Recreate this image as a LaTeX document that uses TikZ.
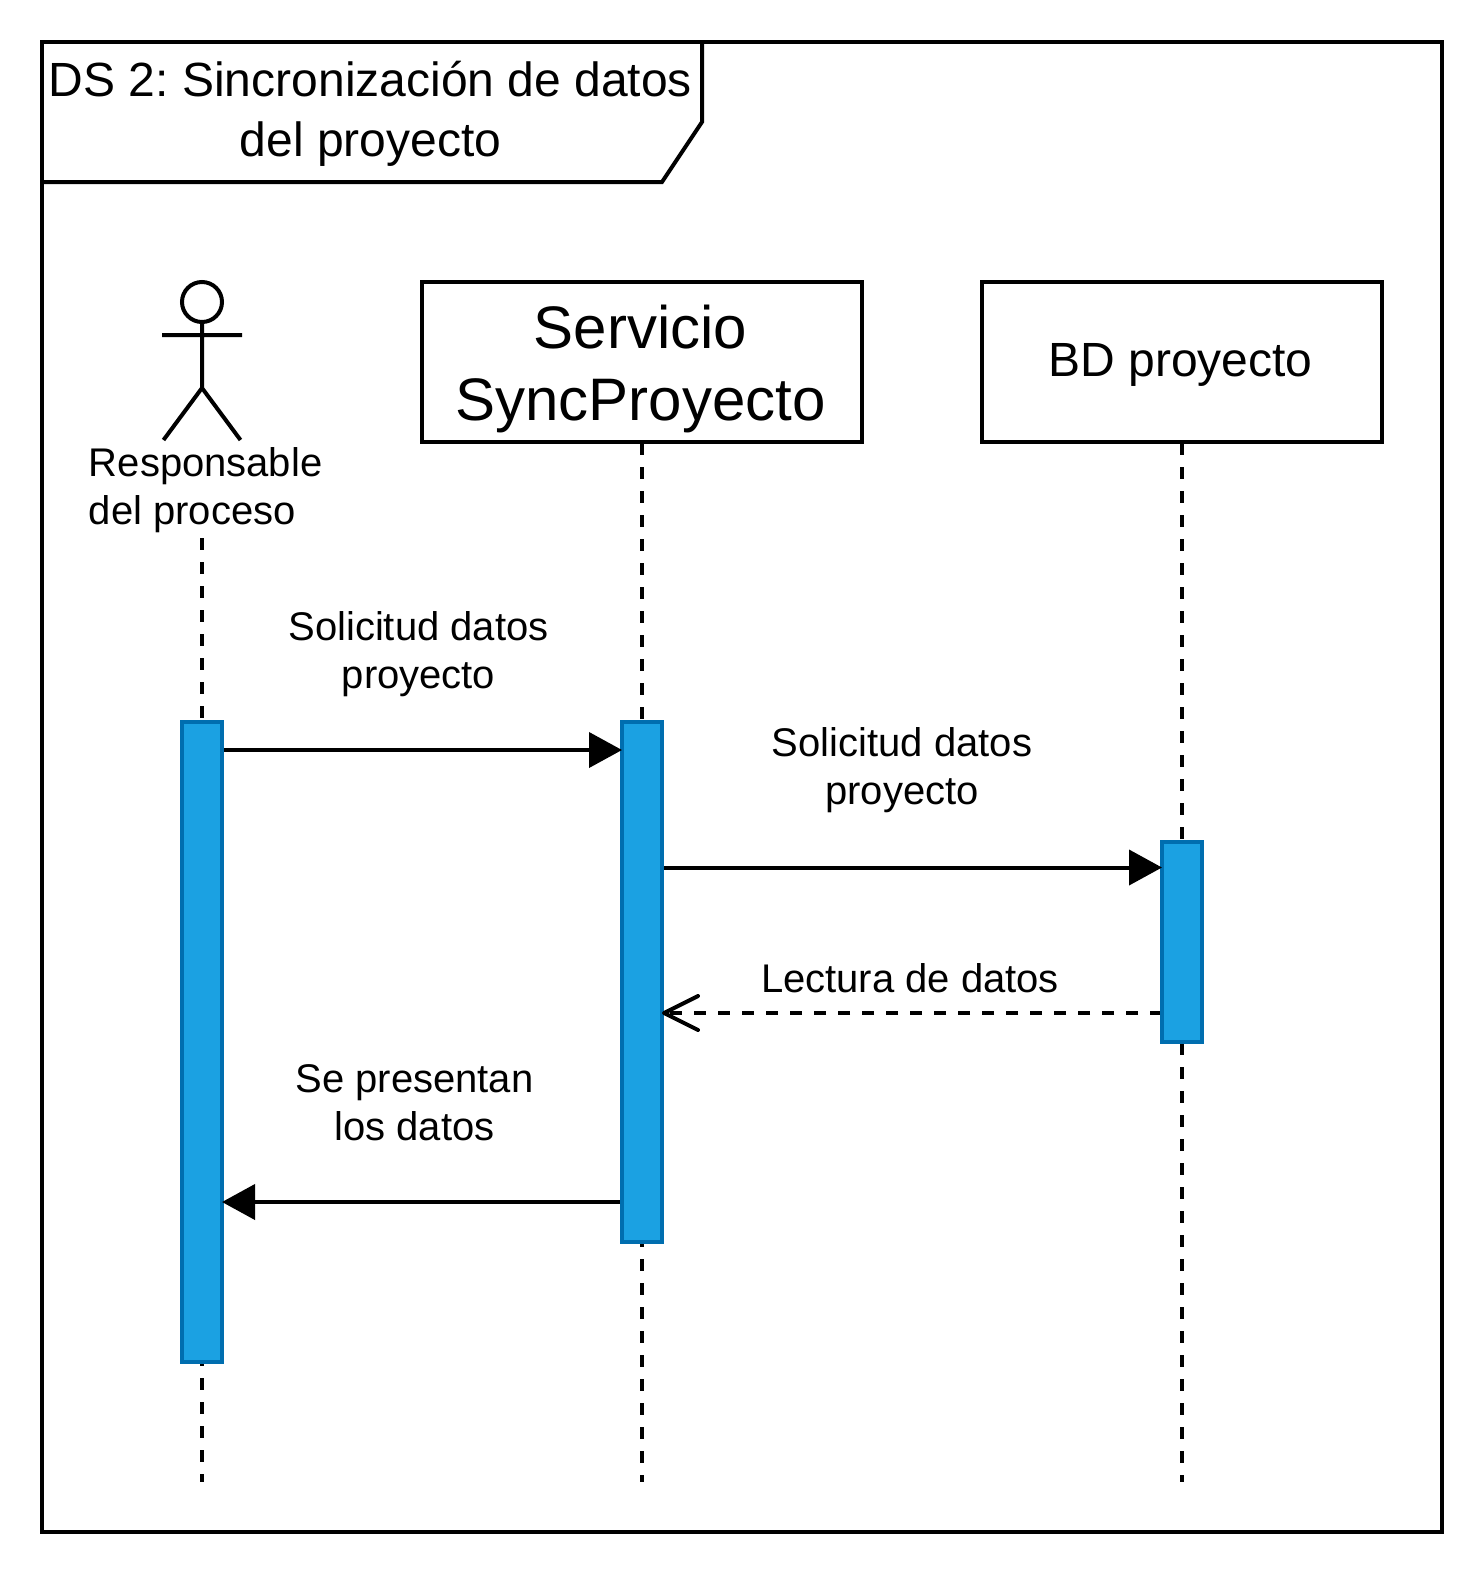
\documentclass[tikz,border=0pt]{standalone}
\usepackage{fontspec}
\setmainfont{Liberation Sans}
\usetikzlibrary{arrows.meta}
\definecolor{actfill}{HTML}{1BA1E2}
\definecolor{actline}{HTML}{006EAF}
\frenchspacing
\tikzset{
 x=0.5bp,y=-0.5bp,
 ln/.style={draw=black,line width=2bp},
 lifeline/.style={ln,dash pattern=on 6bp off 6bp},
 boxn/.style={ln,fill=white,inner sep=0pt,minimum height=80bp},
 act/.style={draw=actline,fill=actfill,line width=2bp,inner sep=0pt,minimum width=20bp},
 msg/.style={ln,shorten >=-1bp,-{Triangle[length=16.5bp,width=17.5bp]}},
 ret/.style={ln,shorten >=-1bp,dash pattern=on 6bp off 6bp,dash phase=1bp,-{Straight Barb[length=17bp,width=17bp,line width=2bp,round]}},
 lab/.style={align=center,font=\fontsize{20bp}{24bp}\selectfont,inner sep=0pt},
 big/.style={align=center,font=\fontsize{24bp}{30bp}\selectfont,inner sep=0pt},
 huge/.style={align=center,font=\fontsize{30bp}{36bp}\selectfont,inner sep=0pt},
}
\begin{document}
\begin{tikzpicture}
\useasboundingbox (0,0) rectangle (1484,1576);
\fill[white] (0,0) rectangle (1484,1576);
\draw[ln] (42,42) rectangle (1442,1532);
\draw[ln] (42,182) -- (662,182) -- (702,122) -- (702,42);
\node[big] (title) at (370.5,114) {DS 2: Sincronización de datos\\del proyecto};
% boxes
\node[boxn,minimum width=220bp] (srv) at (642,362) {};
\node[boxn,minimum width=200bp] (bd) at (1182,362) {};
\node[huge] (srvt) at (640.5,369) {Servicio\\SyncProyecto};
\node[big] (bdt) at (1180.5,365) {BD proyecto};
% lifelines
\coordinate (a0) at (202,538); \coordinate (a1) at (202,1482);
\coordinate (b1) at (642,1482); \coordinate (c1) at (1182,1482);
\draw[lifeline] (a0) -- (a1);
\draw[lifeline,dash phase=0.5bp] (srv.south) -- (b1);
\draw[lifeline,dash phase=0.5bp] (bd.south) -- (c1);
% actor
\draw[ln] (202,302) circle (20);
\draw[ln] (202,322) -- (202,388) (162,335) -- (242,335) (163.5,440) -- (202,388) -- (240.5,440);
\node[lab,align=left,anchor=west] (actor) at (88.5,490) {Responsable\\del proceso};
% activations
\node[act,minimum height=320bp] (aa) at (202,1042) {};
\node[act,minimum height=260bp] (ab) at (642,982) {};
\node[act,minimum height=100bp] (ac) at (1182,942) {};
% messages
\draw[msg] (aa.east |- 0,750) -- (ab.west |- 0,750);
\draw[msg] (ab.east |- 0,867.5) -- (ac.west |- 0,867.5);
\draw[ret] (ac.west |- 0,1013) -- (ab.east |- 0,1013);
\draw[msg] (ab.west |- 0,1202) -- (aa.east |- 0,1202);
\node[lab] (m1) at (418.5,654) {Solicitud datos\\proyecto};
\node[lab] (m2) at (902,770) {Solicitud datos\\proyecto};
\node[lab] (m3) at (910,978) {Lectura de datos};
\node[lab] (m4) at (414.5,1103) {Se presentan\\los datos};
\end{tikzpicture}
\end{document}
